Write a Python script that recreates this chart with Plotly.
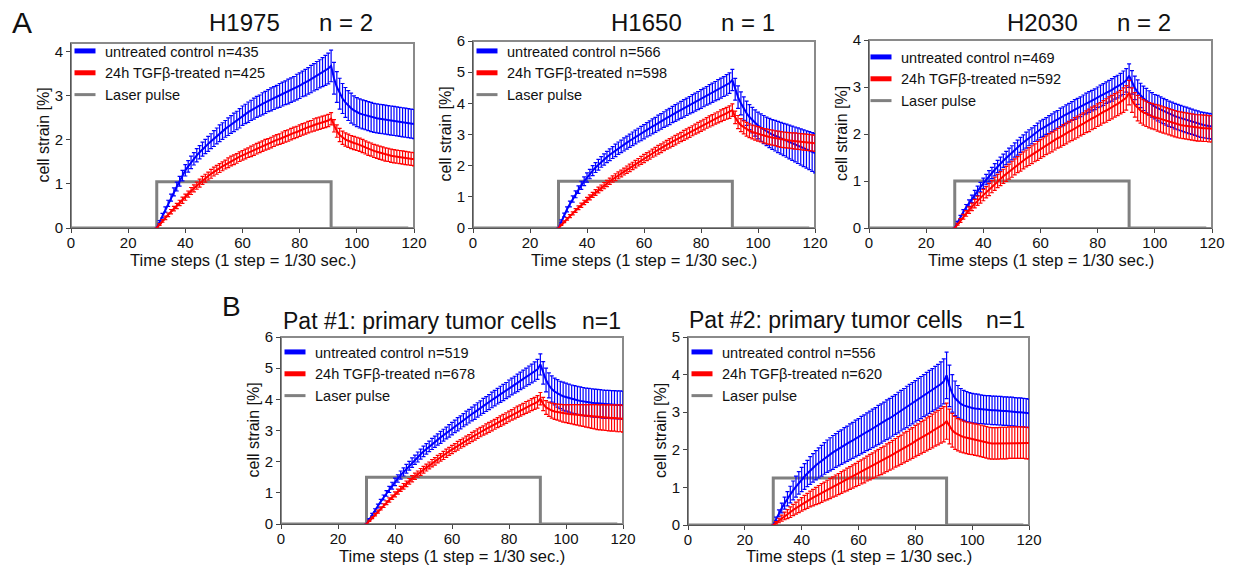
import plotly.graph_objects as go

# ---------------- data ----------------
steps = list(range(30, 121))  # time steps 30..120

laser_t = [0, 30, 30, 91, 91, 118]
laser_shape = [0, 0, 1, 1, 0, 0]

panel_titles = ["H1975", "H1650", "H2030", "Pat #1: primary tumor cells", "Pat #2: primary tumor cells"]
panel_n = ["n = 2", "n = 1", "n = 2", "n=1", "n=1"]
ctrl_counts = [435, 566, 469, 519, 556]
tgf_counts = [425, 598, 592, 678, 620]
laser_levels = [1.05, 1.5, 1.0, 1.5, 1.25]
y_max = [4.2, 6, 4, 6, 5]

# H1975
h1975_ctrl = [0.00, 0.14, 0.28, 0.42, 0.56, 0.69, 0.82, 0.94, 1.06, 1.19, 1.31,
              1.40, 1.49, 1.57, 1.65, 1.72, 1.79, 1.85, 1.91, 1.97, 2.03,
              2.09, 2.15, 2.20, 2.25, 2.30, 2.35, 2.40, 2.44, 2.49, 2.55,
              2.59, 2.63, 2.67, 2.71, 2.75, 2.78, 2.82, 2.85, 2.89, 2.92,
              2.95, 2.98, 3.01, 3.04, 3.07, 3.10, 3.13, 3.16, 3.20, 3.23,
              3.27, 3.30, 3.34, 3.38, 3.42, 3.46, 3.50, 3.54, 3.58, 3.62, 3.68,
              3.40, 3.20, 3.05, 2.94, 2.85, 2.78, 2.72, 2.67, 2.63,
              2.60, 2.58, 2.56, 2.54, 2.52, 2.50, 2.49, 2.48, 2.47, 2.46,
              2.45, 2.44, 2.43, 2.42, 2.41, 2.40, 2.39, 2.38, 2.37, 2.36]
h1975_ctrl_err = [0.00, 0.03, 0.05, 0.06, 0.07, 0.08, 0.09, 0.10, 0.11, 0.12, 0.13,
                  0.13, 0.14, 0.14, 0.15, 0.15, 0.16, 0.16, 0.17, 0.17, 0.18,
                  0.18, 0.19, 0.19, 0.19, 0.20, 0.20, 0.21, 0.21, 0.22, 0.22,
                  0.22, 0.23, 0.23, 0.24, 0.24, 0.24, 0.25, 0.25, 0.25, 0.26,
                  0.26, 0.26, 0.27, 0.27, 0.27, 0.28, 0.28, 0.28, 0.29, 0.29,
                  0.29, 0.30, 0.30, 0.31, 0.31, 0.32, 0.32, 0.33, 0.34, 0.35, 0.36,
                  0.36, 0.35, 0.35, 0.34, 0.34, 0.34, 0.34, 0.33, 0.33,
                  0.33, 0.33, 0.33, 0.33, 0.33, 0.33, 0.33, 0.33, 0.33, 0.33,
                  0.33, 0.33, 0.33, 0.33, 0.33, 0.33, 0.33, 0.33, 0.33, 0.33]
h1975_tgf = [0.00, 0.08, 0.16, 0.23, 0.30, 0.37, 0.44, 0.50, 0.57, 0.63, 0.70,
             0.77, 0.84, 0.90, 0.96, 1.02, 1.08, 1.13, 1.18, 1.23, 1.28,
             1.32, 1.36, 1.40, 1.44, 1.48, 1.52, 1.55, 1.58, 1.62, 1.65,
             1.68, 1.71, 1.74, 1.77, 1.80, 1.83, 1.86, 1.89, 1.91, 1.94,
             1.97, 2.00, 2.02, 2.05, 2.08, 2.10, 2.13, 2.16, 2.18, 2.21,
             2.24, 2.26, 2.29, 2.31, 2.34, 2.36, 2.38, 2.40, 2.42, 2.44, 2.48,
             2.32, 2.20, 2.11, 2.05, 2.01, 1.98, 1.95, 1.93, 1.91,
             1.89, 1.86, 1.83, 1.80, 1.78, 1.75, 1.73, 1.71, 1.69, 1.67,
             1.66, 1.64, 1.63, 1.62, 1.61, 1.60, 1.59, 1.58, 1.57, 1.56]
h1975_tgf_err = [0.00, 0.02, 0.03, 0.04, 0.04, 0.05, 0.05, 0.06, 0.06, 0.07, 0.07,
                 0.07, 0.08, 0.08, 0.08, 0.09, 0.09, 0.09, 0.09, 0.10, 0.10,
                 0.10, 0.10, 0.10, 0.10, 0.11, 0.11, 0.11, 0.11, 0.11, 0.11,
                 0.11, 0.11, 0.12, 0.12, 0.12, 0.12, 0.12, 0.12, 0.12, 0.12,
                 0.12, 0.12, 0.12, 0.13, 0.13, 0.13, 0.13, 0.13, 0.13, 0.13,
                 0.13, 0.13, 0.13, 0.13, 0.14, 0.14, 0.14, 0.14, 0.14, 0.14, 0.14,
                 0.14, 0.14, 0.15, 0.15, 0.15, 0.15, 0.15, 0.15, 0.15,
                 0.15, 0.15, 0.15, 0.15, 0.15, 0.15, 0.15, 0.15, 0.15, 0.15,
                 0.15, 0.15, 0.15, 0.15, 0.15, 0.15, 0.15, 0.15, 0.15, 0.15]

# H1650
h1650_ctrl = [0.00, 0.22, 0.42, 0.60, 0.77, 0.93, 1.08, 1.23, 1.37, 1.50, 1.62,
              1.73, 1.84, 1.94, 2.03, 2.12, 2.20, 2.28, 2.35, 2.42, 2.49,
              2.56, 2.62, 2.68, 2.74, 2.80, 2.86, 2.92, 2.98, 3.03, 3.09,
              3.15, 3.20, 3.26, 3.31, 3.37, 3.42, 3.48, 3.53, 3.58, 3.64,
              3.69, 3.74, 3.79, 3.84, 3.89, 3.94, 3.99, 4.04, 4.09, 4.14,
              4.19, 4.24, 4.29, 4.34, 4.39, 4.44, 4.49, 4.54, 4.59, 4.65, 4.75,
              4.45, 4.20, 4.00, 3.83, 3.68, 3.56, 3.46, 3.37, 3.29,
              3.22, 3.16, 3.10, 3.05, 3.00, 2.96, 2.92, 2.88, 2.84, 2.80,
              2.76, 2.72, 2.68, 2.64, 2.60, 2.56, 2.52, 2.48, 2.44, 2.40]
h1650_ctrl_err = [0.00, 0.04, 0.06, 0.08, 0.09, 0.10, 0.11, 0.12, 0.13, 0.14, 0.15,
                  0.15, 0.16, 0.16, 0.17, 0.17, 0.18, 0.18, 0.19, 0.19, 0.20,
                  0.20, 0.20, 0.21, 0.21, 0.21, 0.22, 0.22, 0.22, 0.23, 0.23,
                  0.23, 0.24, 0.24, 0.24, 0.25, 0.25, 0.25, 0.26, 0.26, 0.26,
                  0.27, 0.27, 0.27, 0.28, 0.28, 0.28, 0.29, 0.29, 0.29, 0.30,
                  0.30, 0.30, 0.31, 0.31, 0.31, 0.32, 0.32, 0.32, 0.33, 0.33, 0.34,
                  0.35, 0.36, 0.37, 0.38, 0.39, 0.40, 0.41, 0.42, 0.43,
                  0.44, 0.45, 0.46, 0.47, 0.48, 0.49, 0.50, 0.51, 0.52, 0.53,
                  0.54, 0.55, 0.56, 0.57, 0.58, 0.59, 0.60, 0.61, 0.62, 0.63]
h1650_tgf = [0.00, 0.10, 0.20, 0.29, 0.38, 0.47, 0.56, 0.65, 0.73, 0.82, 0.90,
             0.98, 1.06, 1.14, 1.22, 1.29, 1.36, 1.43, 1.50, 1.57, 1.63,
             1.69, 1.75, 1.81, 1.87, 1.93, 1.99, 2.05, 2.11, 2.17, 2.23,
             2.29, 2.34, 2.40, 2.45, 2.51, 2.56, 2.62, 2.67, 2.72, 2.77,
             2.82, 2.87, 2.92, 2.97, 3.02, 3.07, 3.12, 3.17, 3.22, 3.27,
             3.32, 3.37, 3.42, 3.46, 3.51, 3.55, 3.60, 3.64, 3.68, 3.72, 3.78,
             3.55, 3.40, 3.30, 3.23, 3.17, 3.12, 3.08, 3.05, 3.02,
             2.99, 2.96, 2.94, 2.92, 2.90, 2.88, 2.86, 2.84, 2.83, 2.82,
             2.81, 2.80, 2.79, 2.78, 2.77, 2.76, 2.75, 2.74, 2.73, 2.72]
h1650_tgf_err = [0.00, 0.02, 0.03, 0.04, 0.05, 0.05, 0.06, 0.06, 0.07, 0.07, 0.08,
                 0.08, 0.08, 0.09, 0.09, 0.09, 0.10, 0.10, 0.10, 0.10, 0.11,
                 0.11, 0.11, 0.11, 0.12, 0.12, 0.12, 0.12, 0.12, 0.13, 0.13,
                 0.13, 0.13, 0.13, 0.14, 0.14, 0.14, 0.14, 0.14, 0.15, 0.15,
                 0.15, 0.15, 0.15, 0.16, 0.16, 0.16, 0.16, 0.16, 0.17, 0.17,
                 0.17, 0.17, 0.18, 0.18, 0.18, 0.18, 0.19, 0.19, 0.19, 0.20, 0.20,
                 0.20, 0.21, 0.21, 0.21, 0.22, 0.22, 0.22, 0.23, 0.23,
                 0.23, 0.23, 0.24, 0.24, 0.24, 0.24, 0.25, 0.25, 0.25, 0.25,
                 0.25, 0.25, 0.26, 0.26, 0.26, 0.26, 0.26, 0.26, 0.26, 0.26]

# H2030
h2030_ctrl = [0.00, 0.12, 0.23, 0.34, 0.44, 0.53, 0.62, 0.71, 0.79, 0.87, 0.95,
              1.03, 1.10, 1.17, 1.24, 1.31, 1.37, 1.43, 1.49, 1.55, 1.60,
              1.66, 1.71, 1.77, 1.82, 1.87, 1.92, 1.96, 2.01, 2.05, 2.10,
              2.13, 2.17, 2.20, 2.24, 2.28, 2.31, 2.35, 2.38, 2.42, 2.45,
              2.49, 2.52, 2.55, 2.58, 2.62, 2.65, 2.68, 2.71, 2.74, 2.78,
              2.81, 2.84, 2.88, 2.91, 2.94, 2.98, 3.01, 3.05, 3.09, 3.14, 3.24,
              3.10, 2.98, 2.89, 2.82, 2.76, 2.71, 2.66, 2.62, 2.58,
              2.55, 2.52, 2.49, 2.46, 2.43, 2.41, 2.38, 2.36, 2.34, 2.32,
              2.30, 2.28, 2.26, 2.24, 2.22, 2.20, 2.19, 2.18, 2.17, 2.16]
h2030_ctrl_err = [0.00, 0.02, 0.04, 0.05, 0.06, 0.07, 0.08, 0.09, 0.10, 0.10, 0.11,
                  0.11, 0.12, 0.12, 0.13, 0.13, 0.14, 0.14, 0.14, 0.15, 0.15,
                  0.15, 0.16, 0.16, 0.16, 0.17, 0.17, 0.17, 0.17, 0.18, 0.18,
                  0.18, 0.18, 0.19, 0.19, 0.19, 0.19, 0.20, 0.20, 0.20, 0.20,
                  0.20, 0.21, 0.21, 0.21, 0.21, 0.22, 0.22, 0.22, 0.22, 0.22,
                  0.23, 0.23, 0.23, 0.23, 0.24, 0.24, 0.24, 0.24, 0.25, 0.25, 0.25,
                  0.25, 0.25, 0.26, 0.26, 0.26, 0.26, 0.26, 0.26, 0.26,
                  0.27, 0.27, 0.27, 0.27, 0.27, 0.27, 0.27, 0.27, 0.27, 0.27,
                  0.27, 0.27, 0.27, 0.27, 0.27, 0.27, 0.27, 0.27, 0.27, 0.27]
h2030_tgf = [0.00, 0.08, 0.16, 0.24, 0.31, 0.38, 0.45, 0.52, 0.58, 0.64, 0.70,
             0.76, 0.82, 0.88, 0.94, 1.00, 1.05, 1.10, 1.15, 1.20, 1.25,
             1.30, 1.35, 1.39, 1.44, 1.48, 1.52, 1.56, 1.60, 1.64, 1.68,
             1.72, 1.76, 1.80, 1.83, 1.87, 1.91, 1.94, 1.98, 2.01, 2.05,
             2.08, 2.12, 2.15, 2.19, 2.22, 2.26, 2.29, 2.33, 2.36, 2.40,
             2.43, 2.47, 2.50, 2.54, 2.57, 2.61, 2.64, 2.68, 2.72, 2.77, 2.88,
             2.72, 2.62, 2.55, 2.50, 2.46, 2.43, 2.40, 2.38, 2.36,
             2.34, 2.32, 2.30, 2.28, 2.26, 2.24, 2.22, 2.20, 2.19, 2.18,
             2.17, 2.16, 2.15, 2.14, 2.13, 2.13, 2.12, 2.12, 2.11, 2.11]
h2030_tgf_err = [0.00, 0.02, 0.04, 0.05, 0.06, 0.07, 0.08, 0.09, 0.10, 0.11, 0.12,
                 0.12, 0.13, 0.13, 0.14, 0.14, 0.15, 0.15, 0.16, 0.16, 0.17,
                 0.17, 0.17, 0.18, 0.18, 0.18, 0.19, 0.19, 0.19, 0.20, 0.20,
                 0.20, 0.20, 0.21, 0.21, 0.21, 0.21, 0.22, 0.22, 0.22, 0.22,
                 0.22, 0.23, 0.23, 0.23, 0.23, 0.23, 0.24, 0.24, 0.24, 0.24,
                 0.24, 0.24, 0.25, 0.25, 0.25, 0.25, 0.25, 0.25, 0.26, 0.26, 0.26,
                 0.26, 0.26, 0.27, 0.27, 0.27, 0.27, 0.27, 0.27, 0.27,
                 0.28, 0.28, 0.28, 0.28, 0.28, 0.28, 0.28, 0.28, 0.28, 0.28,
                 0.28, 0.28, 0.28, 0.28, 0.28, 0.28, 0.28, 0.28, 0.28, 0.28]

# Pat #1
pat1_ctrl = [0.00, 0.15, 0.30, 0.44, 0.58, 0.72, 0.85, 0.98, 1.11, 1.23, 1.35,
             1.46, 1.57, 1.67, 1.77, 1.87, 1.97, 2.06, 2.15, 2.24, 2.33,
             2.41, 2.49, 2.57, 2.64, 2.71, 2.78, 2.85, 2.92, 2.99, 3.06,
             3.13, 3.20, 3.26, 3.33, 3.40, 3.46, 3.53, 3.59, 3.66, 3.72,
             3.79, 3.85, 3.91, 3.98, 4.04, 4.10, 4.16, 4.22, 4.28, 4.35,
             4.41, 4.47, 4.53, 4.59, 4.65, 4.71, 4.77, 4.83, 4.89, 4.96, 5.12,
             4.85, 4.62, 4.45, 4.33, 4.25, 4.19, 4.14, 4.10, 4.07,
             4.04, 4.01, 3.99, 3.97, 3.95, 3.93, 3.91, 3.90, 3.89, 3.88,
             3.87, 3.86, 3.85, 3.84, 3.84, 3.83, 3.83, 3.82, 3.82, 3.81]
pat1_ctrl_err = [0.00, 0.02, 0.04, 0.05, 0.06, 0.07, 0.08, 0.09, 0.10, 0.11, 0.12,
                 0.12, 0.13, 0.13, 0.14, 0.14, 0.15, 0.15, 0.16, 0.16, 0.17,
                 0.17, 0.17, 0.18, 0.18, 0.18, 0.19, 0.19, 0.19, 0.20, 0.20,
                 0.20, 0.21, 0.21, 0.21, 0.22, 0.22, 0.22, 0.23, 0.23, 0.23,
                 0.24, 0.24, 0.24, 0.25, 0.25, 0.25, 0.26, 0.26, 0.26, 0.27,
                 0.27, 0.27, 0.28, 0.28, 0.29, 0.29, 0.30, 0.30, 0.31, 0.32, 0.34,
                 0.36, 0.38, 0.40, 0.42, 0.43, 0.44, 0.44, 0.45, 0.45,
                 0.45, 0.45, 0.45, 0.45, 0.45, 0.45, 0.45, 0.45, 0.45, 0.45,
                 0.45, 0.45, 0.45, 0.45, 0.45, 0.45, 0.45, 0.45, 0.45, 0.45]
pat1_tgf = [0.00, 0.10, 0.20, 0.30, 0.40, 0.50, 0.59, 0.68, 0.77, 0.86, 0.95,
            1.04, 1.13, 1.21, 1.29, 1.37, 1.45, 1.53, 1.60, 1.67, 1.74,
            1.81, 1.88, 1.95, 2.01, 2.08, 2.14, 2.20, 2.27, 2.33, 2.39,
            2.45, 2.51, 2.57, 2.62, 2.68, 2.73, 2.79, 2.84, 2.90, 2.95,
            3.00, 3.05, 3.10, 3.15, 3.20, 3.25, 3.30, 3.35, 3.40, 3.45,
            3.50, 3.55, 3.60, 3.64, 3.69, 3.74, 3.78, 3.83, 3.87, 3.92, 4.02,
            3.85, 3.74, 3.68, 3.64, 3.61, 3.59, 3.57, 3.55, 3.54,
            3.53, 3.52, 3.51, 3.50, 3.49, 3.48, 3.47, 3.46, 3.45, 3.44,
            3.43, 3.42, 3.42, 3.41, 3.41, 3.40, 3.40, 3.39, 3.39, 3.38]
pat1_tgf_err = [0.00, 0.02, 0.03, 0.04, 0.05, 0.05, 0.06, 0.06, 0.07, 0.07, 0.08,
                0.08, 0.08, 0.09, 0.09, 0.09, 0.10, 0.10, 0.10, 0.11, 0.11,
                0.11, 0.11, 0.12, 0.12, 0.12, 0.12, 0.13, 0.13, 0.13, 0.13,
                0.13, 0.14, 0.14, 0.14, 0.14, 0.14, 0.15, 0.15, 0.15, 0.15,
                0.15, 0.16, 0.16, 0.16, 0.16, 0.16, 0.17, 0.17, 0.17, 0.17,
                0.17, 0.18, 0.18, 0.18, 0.18, 0.19, 0.19, 0.19, 0.19, 0.20, 0.20,
                0.21, 0.22, 0.23, 0.24, 0.25, 0.26, 0.27, 0.28, 0.29,
                0.30, 0.31, 0.32, 0.33, 0.34, 0.35, 0.36, 0.37, 0.38, 0.39,
                0.40, 0.40, 0.41, 0.41, 0.42, 0.42, 0.42, 0.43, 0.43, 0.43]

# Pat #2
pat2_ctrl = [0.00, 0.16, 0.31, 0.45, 0.58, 0.70, 0.81, 0.92, 1.02, 1.12, 1.21,
             1.29, 1.37, 1.45, 1.52, 1.59, 1.65, 1.71, 1.77, 1.83, 1.88,
             1.93, 1.98, 2.03, 2.07, 2.12, 2.16, 2.21, 2.25, 2.30, 2.34,
             2.39, 2.43, 2.48, 2.52, 2.57, 2.61, 2.66, 2.70, 2.75, 2.80,
             2.84, 2.89, 2.94, 2.99, 3.04, 3.09, 3.14, 3.19, 3.24, 3.29,
             3.34, 3.39, 3.44, 3.49, 3.54, 3.59, 3.64, 3.69, 3.75, 3.82, 3.98,
             3.70, 3.50, 3.37, 3.28, 3.22, 3.18, 3.15, 3.13, 3.11,
             3.10, 3.09, 3.08, 3.07, 3.06, 3.06, 3.05, 3.05, 3.04, 3.04,
             3.03, 3.03, 3.02, 3.02, 3.01, 3.00, 3.00, 2.99, 2.98, 2.97]
pat2_ctrl_err = [0.00, 0.05, 0.09, 0.13, 0.16, 0.19, 0.22, 0.25, 0.28, 0.30, 0.32,
                 0.34, 0.35, 0.37, 0.38, 0.39, 0.40, 0.41, 0.42, 0.43, 0.44,
                 0.45, 0.45, 0.46, 0.46, 0.47, 0.47, 0.48, 0.48, 0.49, 0.49,
                 0.50, 0.50, 0.50, 0.51, 0.51, 0.51, 0.52, 0.52, 0.52, 0.53,
                 0.53, 0.53, 0.53, 0.54, 0.54, 0.54, 0.55, 0.55, 0.55, 0.55,
                 0.56, 0.56, 0.56, 0.57, 0.57, 0.57, 0.58, 0.58, 0.59, 0.60, 0.62,
                 0.55, 0.50, 0.46, 0.43, 0.41, 0.40, 0.40, 0.39, 0.39,
                 0.39, 0.39, 0.38, 0.38, 0.38, 0.38, 0.38, 0.38, 0.38, 0.38,
                 0.38, 0.38, 0.38, 0.38, 0.38, 0.38, 0.38, 0.38, 0.38, 0.38]
pat2_tgf = [0.00, 0.06, 0.12, 0.18, 0.24, 0.29, 0.34, 0.40, 0.45, 0.50, 0.55,
            0.60, 0.64, 0.69, 0.73, 0.77, 0.81, 0.85, 0.89, 0.93, 0.97,
            1.01, 1.05, 1.09, 1.13, 1.17, 1.21, 1.25, 1.29, 1.33, 1.37,
            1.41, 1.45, 1.50, 1.54, 1.58, 1.62, 1.66, 1.70, 1.74, 1.79,
            1.83, 1.87, 1.92, 1.96, 2.00, 2.05, 2.09, 2.14, 2.18, 2.23,
            2.27, 2.32, 2.36, 2.41, 2.45, 2.50, 2.55, 2.59, 2.64, 2.68, 2.76,
            2.62, 2.52, 2.45, 2.40, 2.37, 2.34, 2.32, 2.30, 2.29,
            2.27, 2.26, 2.24, 2.22, 2.20, 2.18, 2.17, 2.17, 2.17, 2.18,
            2.18, 2.18, 2.19, 2.19, 2.19, 2.19, 2.19, 2.19, 2.18, 2.18]
pat2_tgf_err = [0.00, 0.03, 0.06, 0.08, 0.10, 0.12, 0.14, 0.15, 0.16, 0.17, 0.18,
                0.19, 0.20, 0.21, 0.22, 0.23, 0.24, 0.25, 0.25, 0.26, 0.27,
                0.27, 0.28, 0.28, 0.29, 0.29, 0.30, 0.30, 0.31, 0.31, 0.32,
                0.32, 0.33, 0.33, 0.34, 0.34, 0.35, 0.35, 0.36, 0.36, 0.37,
                0.37, 0.38, 0.38, 0.39, 0.39, 0.40, 0.40, 0.41, 0.41, 0.42,
                0.42, 0.43, 0.43, 0.44, 0.44, 0.45, 0.45, 0.46, 0.46, 0.47, 0.48,
                0.46, 0.45, 0.44, 0.43, 0.43, 0.42, 0.42, 0.42, 0.42,
                0.42, 0.42, 0.42, 0.42, 0.42, 0.42, 0.42, 0.42, 0.42, 0.42,
                0.42, 0.42, 0.42, 0.42, 0.42, 0.42, 0.42, 0.42, 0.42, 0.42]

ctrl_series = [h1975_ctrl, h1650_ctrl, h2030_ctrl, pat1_ctrl, pat2_ctrl]
ctrl_errors = [h1975_ctrl_err, h1650_ctrl_err, h2030_ctrl_err, pat1_ctrl_err, pat2_ctrl_err]
tgf_series = [h1975_tgf, h1650_tgf, h2030_tgf, pat1_tgf, pat2_tgf]
tgf_errors = [h1975_tgf_err, h1650_tgf_err, h2030_tgf_err, pat1_tgf_err, pat2_tgf_err]

# ---------------- layout (pixel geometry) ----------------
W, H = 1237, 566
# plot-area boxes: (left, right, top, bottom) in px
boxes = [(71, 414, 43, 228), (473, 815, 41, 228), (869, 1212, 40, 228),
         (281, 623, 337, 524), (688, 1029, 337, 525)]
# title placements: (left of name, right of n, center y)
title_pos = [(207, 375, 23), (609, 777, 23), (1005, 1173, 23), (281, 623, 321), (687, 1027, 320)]
title_size = [24, 24, 24, 23, 23]
legend_pos = [(65, 35), (467, 35), (861, 41), (275, 336), (682, 336)]
xtitle_y = [260, 260, 260, 556, 556]

BLUE = "#0000ff"
RED = "#ff0000"
GRAY = "#808080"
FONT = "Liberation Sans, Arial, sans-serif"

def px_x(p):
    return p / W

def px_y(p):
    return 1 - p / H

fig = go.Figure()
annotations = []
shapes = []
layout_axes = {}

for i in range(5):
    k = "" if i == 0 else str(i + 1)
    xa, ya = "x" + k, "y" + k
    lg = "legend" + k
    L, R, T, B = boxes[i]

    laser_y = [v * laser_levels[i] for v in laser_shape]
    fig.add_trace(go.Scatter(x=laser_t, y=laser_y, mode="lines",
                             line=dict(color=GRAY, width=3), xaxis=xa, yaxis=ya,
                             showlegend=False, hoverinfo="skip"))
    fig.add_trace(go.Scatter(x=steps, y=ctrl_series[i], mode="lines",
                             line=dict(color=BLUE, width=2),
                             error_y=dict(type="data", array=ctrl_errors[i], color=BLUE,
                                          thickness=1.2, width=2),
                             xaxis=xa, yaxis=ya, showlegend=False))
    fig.add_trace(go.Scatter(x=steps, y=tgf_series[i], mode="lines",
                             line=dict(color=RED, width=2),
                             error_y=dict(type="data", array=tgf_errors[i], color=RED,
                                          thickness=1.2, width=2),
                             xaxis=xa, yaxis=ya, showlegend=False))
    # legend entries
    for name, col, lw in [(f"untreated control n={ctrl_counts[i]}", BLUE, 5),
                          (f"24h TGFβ-treated n={tgf_counts[i]}", RED, 5),
                          ("Laser pulse", GRAY, 3)]:
        fig.add_trace(go.Scatter(x=[None], y=[None], mode="markers", name=name,
                                 marker=dict(symbol="line-ew", size=15,
                                             line=dict(color=col, width=lw)),
                                 xaxis=xa, yaxis=ya, legend=lg, showlegend=True))

    layout_axes["xaxis" + k] = dict(
        domain=[px_x(L), px_x(R)], range=[0, 120], anchor=ya, automargin=False,
        tickvals=[0, 20, 40, 60, 80, 100, 120], ticks="outside", ticklen=4,
        tickcolor="#444", showline=True, linecolor="#555", linewidth=1,
        mirror=False, showgrid=False, zeroline=False, ticklabelstandoff=-3,
        tickfont=dict(family=FONT, size=15, color="#111"))
    layout_axes["yaxis" + k] = dict(
        domain=[px_y(B), px_y(T)], range=[0, y_max[i]], anchor=xa, automargin=False,
        dtick=1, ticks="outside", ticklen=4, tickcolor="#444",
        showline=True, linecolor="#555", linewidth=1, mirror=False,
        showgrid=False, zeroline=False,
        tickfont=dict(family=FONT, size=15, color="#111"))
    # axis titles
    annotations.append(dict(text="Time steps (1 step = 1/30 sec.)", x=0.5, y=px_y(xtitle_y[i]),
                            xref=xa + " domain", yref="paper", xanchor="center", yanchor="middle",
                            showarrow=False, font=dict(family=FONT, size=16.5, color="#111")))
    annotations.append(dict(text="cell strain [%]", x=px_x(L - 28), y=0.5,
                            xref="paper", yref=ya + " domain", xanchor="center", yanchor="middle",
                            textangle=-90, showarrow=False,
                            font=dict(family=FONT, size=16, color="#111")))
    # gray frame around the plot area
    shapes.append(dict(type="rect", xref=xa + " domain", yref=ya + " domain",
                       x0=0, x1=1, y0=0, y1=1, line=dict(color="#8a8a8a", width=2),
                       layer="below"))
    # legend
    lx, ly = legend_pos[i]
    layout_axes[lg] = dict(x=px_x(lx), y=px_y(ly), xanchor="left", yanchor="top",
                           bgcolor="rgba(0,0,0,0)", font=dict(family=FONT, size=14.5, color="#111"),
                           tracegroupgap=0, itemclick=False)
    # titles
    tl, tr, ty = title_pos[i]
    annotations.append(dict(text=panel_titles[i], x=px_x(tl), y=px_y(ty), xref="paper", yref="paper",
                            xanchor="left", yanchor="middle", showarrow=False,
                            font=dict(family=FONT, size=title_size[i], color="#111")))
    annotations.append(dict(text=panel_n[i], x=px_x(tr), y=px_y(ty), xref="paper", yref="paper",
                            xanchor="right", yanchor="middle", showarrow=False,
                            font=dict(family=FONT, size=title_size[i], color="#111")))

annotations.append(dict(text="A", x=px_x(10), y=px_y(23), xref="paper", yref="paper",
                        xanchor="left", yanchor="middle", showarrow=False,
                        font=dict(family=FONT, size=30, color="#111")))
annotations.append(dict(text="B", x=px_x(220), y=px_y(306), xref="paper", yref="paper",
                        xanchor="left", yanchor="middle", showarrow=False,
                        font=dict(family=FONT, size=28, color="#111")))

fig.update_layout(width=W, height=H, margin=dict(l=0, r=0, t=0, b=0),
                  paper_bgcolor="white", plot_bgcolor="white",
                  annotations=annotations, shapes=shapes, **layout_axes)

fig.write_html("out.html", config={"displayModeBar": False},
               post_script="document.body.style.margin='0';document.body.style.overflow='hidden';")
